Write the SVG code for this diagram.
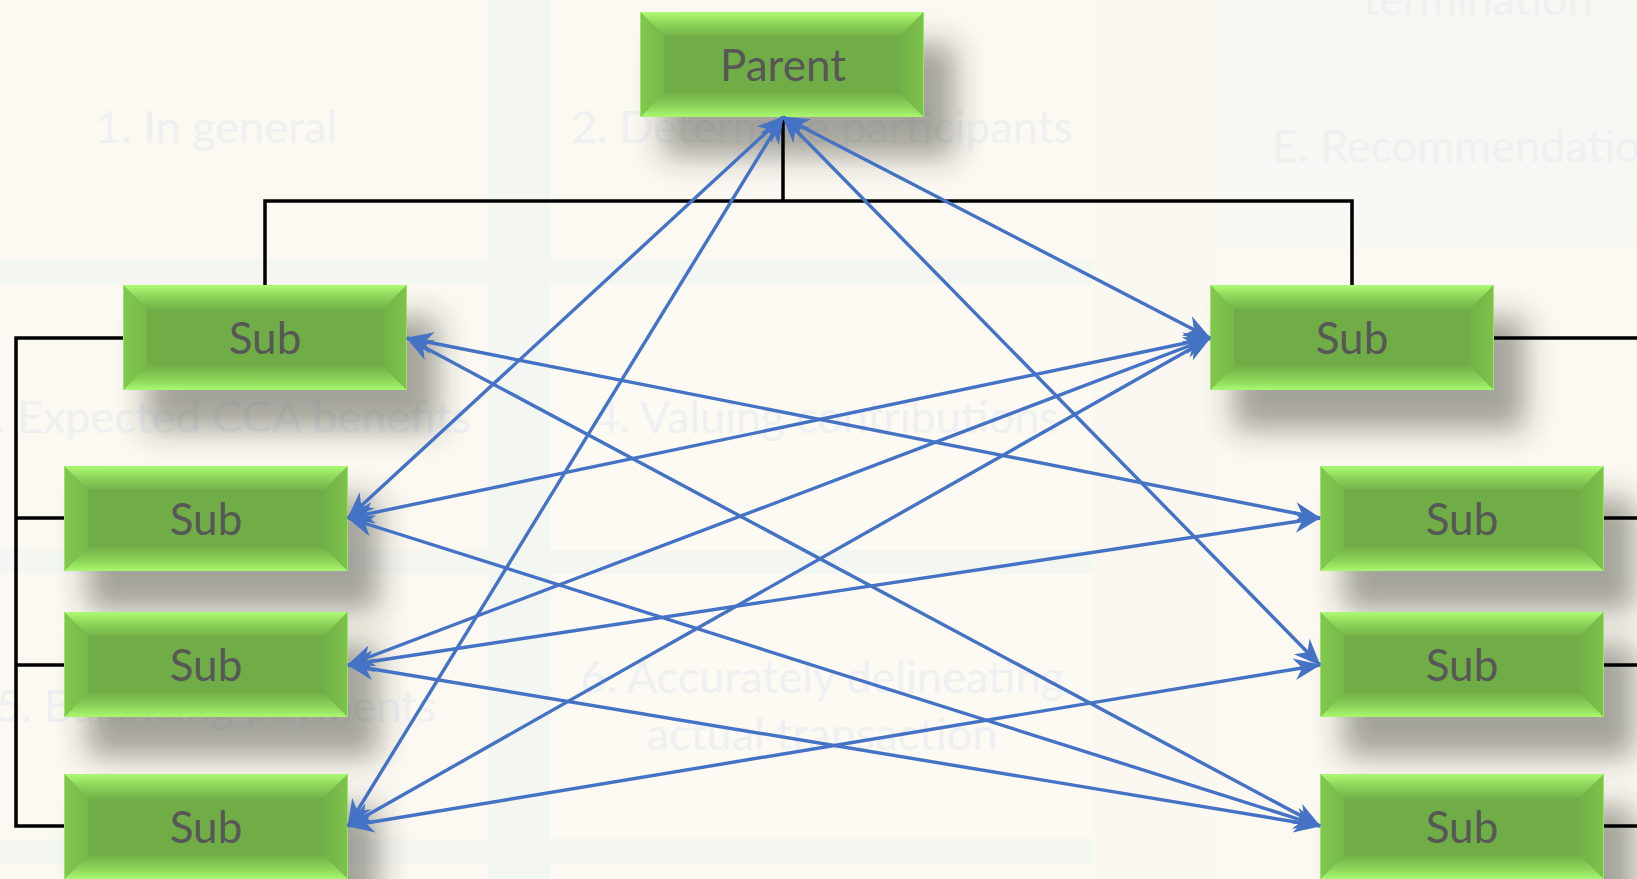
<svg xmlns="http://www.w3.org/2000/svg" xmlns:xlink="http://www.w3.org/1999/xlink" width="1637" height="879" viewBox="0 0 1637 879">
  <style>
    .bgtxt { font-family: Lato, "Liberation Sans", sans-serif; font-size: 45px; fill: #eff0f2; }
    .lbl { font-family: Lato, "Liberation Sans", sans-serif; font-size: 44px; fill: #575757; text-anchor: middle; }
    .tree { fill: none; stroke: #000; stroke-width: 3.5; }
    .link { fill: none; stroke: #4472c4; stroke-width: 3.4; marker-start: url(#ah); marker-end: url(#ah); }
  </style>
  <defs>
    <linearGradient id="gTop" x1="0" y1="0" x2="0" y2="1">
      <stop offset="0" stop-color="#adfd74"/>
      <stop offset="0.4" stop-color="#93da5e"/>
      <stop offset="1" stop-color="#73b349"/>
    </linearGradient>
    <linearGradient id="gBot" x1="0" y1="0" x2="0" y2="1">
      <stop offset="0" stop-color="#72b147"/>
      <stop offset="0.6" stop-color="#8ed65c"/>
      <stop offset="1" stop-color="#a8f96f"/>
    </linearGradient>
    <linearGradient id="gLeft" x1="0" y1="0" x2="1" y2="0">
      <stop offset="0" stop-color="#82c84f"/>
      <stop offset="1" stop-color="#77b94a"/>
    </linearGradient>
    <linearGradient id="gRight" x1="0" y1="0" x2="1" y2="0">
      <stop offset="0" stop-color="#72b148"/>
      <stop offset="1" stop-color="#7ec34d"/>
    </linearGradient>
    <filter id="shadow" x="-30%" y="-50%" width="180%" height="270%">
      <feMorphology in="SourceAlpha" operator="dilate" radius="4" result="d"/>
      <feGaussianBlur in="d" stdDeviation="15"/>
      <feOffset dx="27" dy="36" result="b"/>
      <feFlood flood-color="#35352b" flood-opacity="0.44"/>
      <feComposite in2="b" operator="in"/>
      <feMerge>
        <feMergeNode/>
        <feMergeNode in="SourceGraphic"/>
      </feMerge>
    </filter>
    <g id="box">
      <rect width="284" height="105" fill="#70ad47"/>
      <polygon points="0,0 284,0 260,24 24,24" fill="url(#gTop)"/>
      <polygon points="0,105 284,105 260,81 24,81" fill="url(#gBot)"/>
      <polygon points="0,0 24,24 24,81 0,105" fill="url(#gLeft)"/>
      <polygon points="284,0 260,24 260,81 284,105" fill="url(#gRight)"/>
      <rect x="0.5" y="0.5" width="283" height="104" fill="none" stroke="#a6f26e" stroke-width="1" stroke-opacity="0.7"/>
    </g>
    <marker id="ah" viewBox="-28 -13 30 26" refX="0" refY="0" markerWidth="30" markerHeight="26" markerUnits="userSpaceOnUse" orient="auto-start-reverse" overflow="visible">
      <path d="M1,0 L-26,-11 L-18,0 L-26,11 Z" fill="#4472c4"/>
    </marker>
  </defs>

  <!-- background slide -->
  <g id="background">
    <rect x="0" y="0" width="1637" height="879" fill="#f4f6f1"/>
    <rect x="0" y="0" width="488" height="259" fill="#fbf9f1"/>
    <rect x="550" y="0" width="543" height="259" fill="#fbf9f1"/>
    <rect x="0" y="284" width="488" height="266" fill="#fbf9f1"/>
    <rect x="550" y="284" width="543" height="266" fill="#fcfaf2"/>
    <rect x="0" y="574" width="488" height="265" fill="#fbf9f1"/>
    <rect x="550" y="574" width="543" height="265" fill="#fcfaf2"/>
    <rect x="0" y="864" width="488" height="15" fill="#fbf9f1"/>
    <rect x="550" y="864" width="543" height="15" fill="#fbf9f1"/>
    <rect x="1093" y="0" width="123" height="879" fill="#faf8f1"/>
    <rect x="1216" y="0" width="421" height="879" fill="#f7f8f3"/>
    <rect x="1216" y="45" width="421" height="25" fill="#faf8f2"/>
    <rect x="1216" y="222" width="421" height="30" fill="#faf8f2"/>
    <rect x="1216" y="252" width="421" height="627" fill="#fbf9f1"/>
    <text class="bgtxt" x="216" y="143" text-anchor="middle">1. In general</text>
    <text class="bgtxt" x="822" y="143" text-anchor="middle">2. Determine participants</text>
    <text class="bgtxt" x="1478" y="15" text-anchor="middle">termination</text>
    <text class="bgtxt" x="1272" y="162">E. Recommendation</text>
    <text class="bgtxt" x="220" y="433" text-anchor="middle">3. Expected CCA benefits</text>
    <text class="bgtxt" x="826" y="433" text-anchor="middle">4. Valuing contributions</text>
    <text class="bgtxt" x="216" y="722" text-anchor="middle">5. Balancing payments</text>
    <text class="bgtxt" x="822" y="693" text-anchor="middle">6. Accurately delineating</text>
    <text class="bgtxt" x="822" y="750" text-anchor="middle">actual transaction</text>
  </g>

  <!-- nodes -->
  <g id="parent">
    <use xlink:href="#box" href="#box" x="640" y="12" filter="url(#shadow)"/>
    <text class="lbl" x="783" y="81">Parent</text>
  </g>
  <g id="sub-left-0">
    <use xlink:href="#box" href="#box" x="123" y="285" filter="url(#shadow)"/>
    <text class="lbl" x="265" y="354">Sub</text>
  </g>
  <g id="sub-left-1">
    <use xlink:href="#box" href="#box" x="64" y="466" filter="url(#shadow)"/>
    <text class="lbl" x="206" y="535">Sub</text>
  </g>
  <g id="sub-left-2">
    <use xlink:href="#box" href="#box" x="64" y="612" filter="url(#shadow)"/>
    <text class="lbl" x="206" y="681">Sub</text>
  </g>
  <g id="sub-left-3">
    <use xlink:href="#box" href="#box" x="64" y="774" filter="url(#shadow)"/>
    <text class="lbl" x="206" y="843">Sub</text>
  </g>
  <g id="sub-right-0">
    <use xlink:href="#box" href="#box" x="1210" y="285" filter="url(#shadow)"/>
    <text class="lbl" x="1352" y="354">Sub</text>
  </g>
  <g id="sub-right-1">
    <use xlink:href="#box" href="#box" x="1320" y="466" filter="url(#shadow)"/>
    <text class="lbl" x="1462" y="535">Sub</text>
  </g>
  <g id="sub-right-2">
    <use xlink:href="#box" href="#box" x="1320" y="612" filter="url(#shadow)"/>
    <text class="lbl" x="1462" y="681">Sub</text>
  </g>
  <g id="sub-right-3">
    <use xlink:href="#box" href="#box" x="1320" y="774" filter="url(#shadow)"/>
    <text class="lbl" x="1462" y="843">Sub</text>
  </g>

  <!-- connectors -->
  <g id="connectors">
    <path class="tree" d="M265,285 V201 H1352 V285"/>
    <path class="tree" d="M783,117 V201"/>
    <path class="tree" d="M123,338 H16 V826 H64"/>
    <path class="tree" d="M16,518 H64"/>
    <path class="tree" d="M16,665 H64"/>
    <path class="tree" d="M1494,338 H1637"/>
    <path class="tree" d="M1604,518 H1637"/>
    <path class="tree" d="M1604,665 H1637"/>
    <path class="tree" d="M1604,826 H1637"/>

    <line class="link" x1="783" y1="117" x2="348" y2="518"/>
    <line class="link" x1="783" y1="117" x2="348" y2="826"/>
    <line class="link" x1="783" y1="117" x2="1210" y2="338"/>
    <line class="link" x1="783" y1="117" x2="1320" y2="665"/>
    <line class="link" x1="407" y1="338" x2="1320" y2="518"/>
    <line class="link" x1="407" y1="338" x2="1320" y2="826"/>
    <line class="link" x1="1210" y1="338" x2="348" y2="518"/>
    <line class="link" x1="1210" y1="338" x2="348" y2="665"/>
    <line class="link" x1="1210" y1="338" x2="348" y2="826"/>
    <line class="link" x1="348" y1="518" x2="1320" y2="826"/>
    <line class="link" x1="348" y1="665" x2="1320" y2="518"/>
    <line class="link" x1="348" y1="665" x2="1320" y2="826"/>
    <line class="link" x1="348" y1="826" x2="1320" y2="665"/>
  </g>
</svg>
